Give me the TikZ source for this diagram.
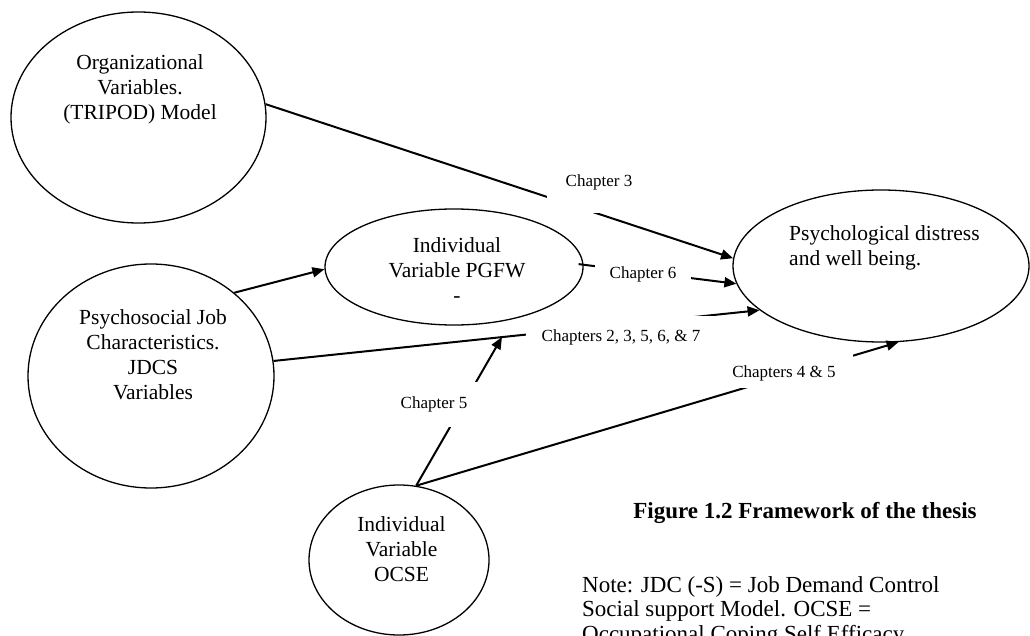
\documentclass[tikz,border=0pt]{standalone}
\usepackage{fontspec}
\setmainfont{Liberation Serif}
\usetikzlibrary{arrows.meta,shapes.geometric}

\begin{document}
\begin{tikzpicture}[x=1pt,y=-1pt,>={Triangle[length=12pt,width=10pt]},
		var/.style={ellipse,draw=black,line width=1.3pt,inner sep=0pt},
		vartext/.style={align=center,inner sep=0pt,font=\fontsize{21.5}{25}\selectfont},
		chap/.style={fill=white,inner ysep=0pt,anchor=base,font=\fontsize{17}{20}\selectfont},
		link/.style={line width=2pt}]
		\useasboundingbox (0,0) rectangle (1030,636);
		\clip (0,0) rectangle (1030,636);
		
		\node[var,minimum width=255pt,minimum height=211pt] (org)     at (138.5,117.5) {};
		\node[var,minimum width=258pt,minimum height=116pt] (pgfw)    at (454,267)     {};
		\node[var,minimum width=296pt,minimum height=152pt] (outcome) at (881,266)     {};
		\node[var,minimum width=246pt,minimum height=224pt] (psych)   at (151,376)     {};
		\node[var,minimum width=180pt,minimum height=150pt] (ocse)    at (399,560)     {};
		
		\node[vartext] (orgtext)   at (140,89.5)  {Organizational\\Variables.\\(TRIPOD) Model};
		\node[vartext] (pgfwtext)  at (457,269.7) {Individual\\Variable PGFW\\-};
		\node[vartext,align=left,anchor=west] (outtext) at (789,247.8) {Psychological distress\\and well being.};
		\node[vartext] (psychtext) at (153,354.5) {Psychosocial Job\\Characteristics.\\JDCS\\Variables};
		\node[vartext] (ocsetext)  at (401.5,549.6) {Individual\\Variable\\OCSE};
		
		\path[->,link]
		(org.6) edge (outcome.177)
		(pgfw.1) edge[shorten <=-5pt] (outcome.187)
		(psych.45) edge (pgfw.181)
		(ocse.77) edge (outcome.283);
		\draw[->,link] (psych.7) -- coordinate[pos=0.47] (join) (outcome.200);
		\draw[->,link] (ocse.77) -- (join);
		
		\node[chap,inner xsep=19pt,text height=18.5pt,text depth=26.5pt] (ch3)  at (599,186.5) {Chapter 3};
		\node[chap,inner xsep=15pt,text height=20pt,text depth=10pt]     (ch6)  at (643,278.5) {Chapter 6};
		\node[chap,inner xsep=16pt,text height=25.5pt,text depth=10.5pt] (chall) at (621,341.5) {Chapters 2, 3, 5, 6, \& 7};
		\node[chap,inner xsep=12pt,text height=26.5pt,text depth=18.5pt] (ch5)  at (434,408.5) {Chapter 5};
		\node[chap,inner xsep=17pt,text height=25.5pt,text depth=10.5pt] (ch45) at (784,377.5) {Chapters 4 \& 5};
		
		\node[anchor=base,font=\fontsize{23}{24.5}\selectfont\bfseries] (caption) at (805,518) {Figure 1.2 Framework of the thesis};
		\node[anchor=north west,align=left,inner sep=0pt,font=\fontsize{23}{24.5}\selectfont] (note) at (582,576)
		{Note: JDC (-S) = Job Demand Control\\Social support Model. OCSE =\\Occupational Coping Self Efficacy};
\end{tikzpicture}
\end{document}
